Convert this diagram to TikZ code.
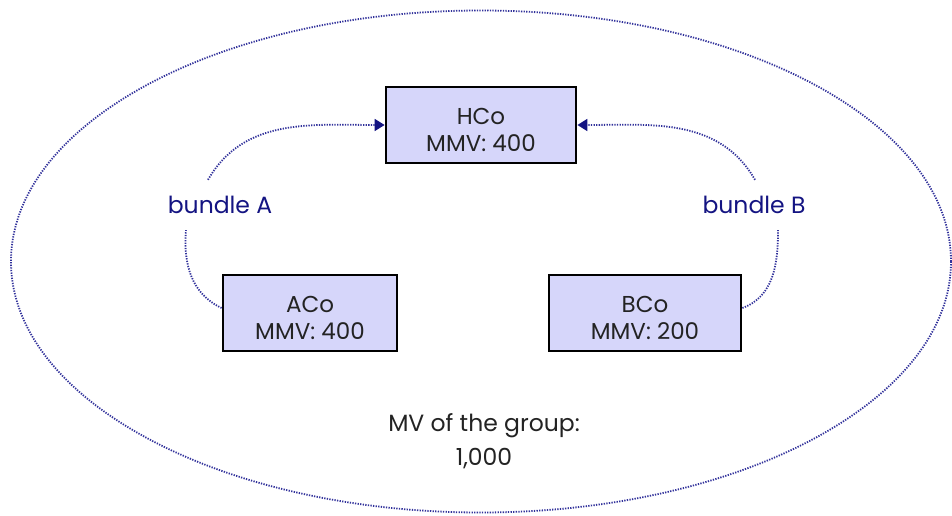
\documentclass[tikz,border=0pt]{standalone}
\usepackage{fontspec}
\setmainfont{Poppins}
\usetikzlibrary{arrows.meta}
\definecolor{boxfill}{RGB}{214,214,250}
\definecolor{navy}{RGB}{20,20,130}
\definecolor{dotblue}{RGB}{50,50,155}
\definecolor{txt}{RGB}{35,35,35}
\newcommand{\topstrut}{\rule{0pt}{27pt}}
\tikzset{
  company/.style={draw=black, line width=2.8pt, fill=boxfill, minimum height=76pt,
    align=center, font=\fontsize{23}{27}\selectfont, text=txt, inner sep=0pt},
  bundlelabel/.style={font=\fontsize{23.5}{26}\selectfont, text=navy, minimum height=50pt, inner sep=0pt},
  dotline/.style={draw=dotblue, line width=1.8pt, dash pattern=on 1.3pt off 1.3pt},
  arrowline/.style={dotline, -{Triangle[length=10pt,width=12pt,fill=navy,color=navy]}}
}
\begin{document}
\begin{tikzpicture}[x=1pt,y=1pt]
\useasboundingbox (0,0) rectangle (952,515);
\draw[dotline] (481,253.5) ellipse [x radius=470, y radius=251];
\node[company, minimum width=190pt] (HCo) at (481,390) {\topstrut HCo\\MMV: 400};
\node[company, minimum width=174pt] (ACo) at (310,202) {\topstrut ACo\\MMV: 400};
\node[company, minimum width=192pt] (BCo) at (645,202) {\topstrut BCo\\MMV: 200};
\node[bundlelabel] (bA) at (220,310) {bundle A};
\node[bundlelabel] (bB) at (754,310) {bundle B};
\node[align=center, font=\fontsize{23.5}{34}\selectfont, text=txt] (MV) at (484,74) {MV of the group:\\1,000};
\draw[dotline] ([yshift=5pt]ACo.west) to[out=155, in=-95] ([xshift=-34pt]bA.south);
\draw[arrowline] ([xshift=-12pt]bA.north) to[out=60, in=180] (HCo.west);
\draw[dotline] ([yshift=5pt]BCo.east) to[out=20, in=-90] ([xshift=24pt]bB.south);
\draw[arrowline] ([xshift=1pt]bB.north) to[out=120, in=0] (HCo.east);
\end{tikzpicture}
\end{document}
